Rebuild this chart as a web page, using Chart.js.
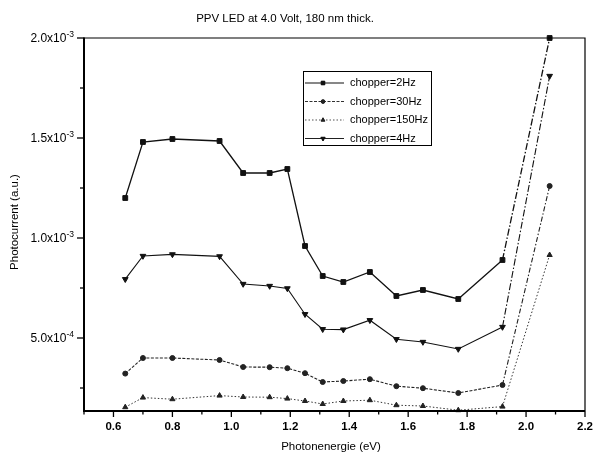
<!DOCTYPE html>
<html><head><meta charset="utf-8">
<script src="https://cdn.jsdelivr.net/npm/chart.js@4.4.1/dist/chart.umd.min.js"></script>
<style>html,body{margin:0;padding:0;background:#fff;}canvas{display:block;}</style>
</head><body>
<canvas id="c" width="593" height="455"></canvas>
<script>
const chartTitle = 'PPV LED at 4.0 Volt, 180 nm thick.';
const xTitle = 'Photonenergie (eV)';
const yTitle = 'Photocurrent (a.u.)';

const energy = [0.64, 0.70, 0.80, 0.96, 1.04, 1.13, 1.19, 1.25, 1.31, 1.38, 1.47, 1.56, 1.65, 1.77, 1.92, 2.08];
const chopper2Hz   = [1.20e-3, 1.48e-3, 1.495e-3, 1.485e-3, 1.325e-3, 1.325e-3, 1.345e-3, 0.96e-3, 0.81e-3, 0.78e-3, 0.83e-3, 0.71e-3, 0.74e-3, 0.695e-3, 0.89e-3, 2.0e-3];
const chopper30Hz  = [0.322e-3, 0.40e-3, 0.40e-3, 0.39e-3, 0.355e-3, 0.354e-3, 0.349e-3, 0.324e-3, 0.28e-3, 0.285e-3, 0.294e-3, 0.259e-3, 0.249e-3, 0.225e-3, 0.265e-3, 1.26e-3];
const chopper150Hz = [0.154e-3, 0.202e-3, 0.194e-3, 0.212e-3, 0.205e-3, 0.204e-3, 0.197e-3, 0.185e-3, 0.17e-3, 0.185e-3, 0.189e-3, 0.164e-3, 0.16e-3, 0.139e-3, 0.157e-3, 0.915e-3];
const chopper4Hz   = [0.794e-3, 0.91e-3, 0.918e-3, 0.908e-3, 0.77e-3, 0.76e-3, 0.748e-3, 0.619e-3, 0.544e-3, 0.542e-3, 0.589e-3, 0.494e-3, 0.48e-3, 0.445e-3, 0.555e-3, 1.81e-3];
const seriesNames = ['chopper=2Hz', 'chopper=30Hz', 'chopper=150Hz', 'chopper=4Hz'];

const xTickValues = [0.6, 0.8, 1.0, 1.2, 1.4, 1.6, 1.8, 2.0, 2.2];
const xTickLabels = ['0.6', '0.8', '1.0', '1.2', '1.4', '1.6', '1.8', '2.0', '2.2'];
const xMinorValues = [0.5, 0.7, 0.9, 1.1, 1.3, 1.5, 1.7, 1.9, 2.1];
const yTickValues = [5e-4, 1e-3, 1.5e-3, 2e-3];
const yTickMantissa = ['5.0x10', '1.0x10', '1.5x10', '2.0x10'];
const yTickExponent = ['-4', '-3', '-3', '-3'];
const yMinorValues = [2.5e-4, 7.5e-4, 1.25e-3, 1.75e-3];

const FONT = '"Liberation Sans", Arial, sans-serif';

function pts(ys) { return energy.map((x, i) => ({ x: x, y: ys[i] })); }
function lastSeg(dash) {
  return { borderDash: ctx => ctx.p1DataIndex === energy.length - 1 ? dash : undefined };
}

const datasets = [
  { label: seriesNames[0], data: pts(chopper2Hz), borderColor: '#111', backgroundColor: '#111',
    borderWidth: 1.3, pointStyle: 'rect', pointRadius: 3.4, pointRotation: 0, borderDash: [],
    segment: lastSeg([7, 2, 1.5, 2]) },
  { label: seriesNames[1], data: pts(chopper30Hz), borderColor: '#222', backgroundColor: '#222',
    borderWidth: 1.1, pointStyle: 'circle', pointRadius: 2.5, pointRotation: 0, borderDash: [3, 1.5],
    segment: lastSeg([5, 2, 1.5, 2]) },
  { label: seriesNames[2], data: pts(chopper150Hz), borderColor: '#333', backgroundColor: '#222',
    borderWidth: 1, pointStyle: 'triangle', pointRadius: 3, pointRotation: 0, borderDash: [1.5, 2],
    segment: lastSeg([1.5, 2]) },
  { label: seriesNames[3], data: pts(chopper4Hz), borderColor: '#111', backgroundColor: '#111',
    borderWidth: 1.1, pointStyle: 'triangle', pointRadius: 3.3, pointRotation: 180, borderDash: [],
    segment: lastSeg([7, 2, 1.5, 2]) }
].map(d => Object.assign(d, { pointBorderWidth: 1, pointBorderColor: d.backgroundColor, tension: 0, fill: false, clip: false }));

function drawMarker(ctx, ds, x, y) {
  ctx.save();
  ctx.fillStyle = ds.backgroundColor;
  ctx.strokeStyle = ds.backgroundColor;
  ctx.lineWidth = 1;
  ctx.setLineDash([]);
  Chart.helpers.drawPoint(ctx, { pointStyle: ds.pointStyle, radius: ds.pointRadius * 0.75, rotation: ds.pointRotation, borderWidth: 1 }, x, y);
  ctx.fill();
  ctx.restore();
}

const decor = {
  id: 'decor',
  afterDraw(chart) {
    const ctx = chart.ctx;
    const a = chart.chartArea;
    const xs = chart.scales.x, ys = chart.scales.y;
    ctx.save();
    ctx.strokeStyle = '#000';
    ctx.fillStyle = '#000';
    ctx.setLineDash([]);
    // frame
    ctx.lineWidth = 1.2;
    ctx.beginPath();
    ctx.moveTo(a.left, a.top); ctx.lineTo(a.right, a.top); ctx.lineTo(a.right, a.bottom);
    ctx.stroke();
    ctx.lineWidth = 2;
    ctx.beginPath();
    ctx.moveTo(a.left, a.top - 0.5); ctx.lineTo(a.left, a.bottom); ctx.lineTo(a.right, a.bottom);
    ctx.stroke();
    // x ticks
    ctx.lineWidth = 1.3;
    xTickValues.forEach(v => {
      const px = xs.getPixelForValue(v);
      ctx.beginPath(); ctx.moveTo(px, a.bottom); ctx.lineTo(px, a.bottom + 6); ctx.stroke();
    });
    xMinorValues.forEach(v => {
      const px = xs.getPixelForValue(v);
      ctx.beginPath(); ctx.moveTo(px, a.bottom); ctx.lineTo(px, a.bottom + 3.5); ctx.stroke();
    });
    // y ticks
    yTickValues.forEach(v => {
      const py = ys.getPixelForValue(v);
      ctx.beginPath(); ctx.moveTo(a.left, py); ctx.lineTo(a.left - 7, py); ctx.stroke();
    });
    yMinorValues.forEach(v => {
      const py = ys.getPixelForValue(v);
      ctx.beginPath(); ctx.moveTo(a.left, py); ctx.lineTo(a.left - 4, py); ctx.stroke();
    });
    // x tick labels
    ctx.font = 'bold 11.5px ' + FONT;
    ctx.textAlign = 'center';
    ctx.textBaseline = 'middle';
    xTickValues.forEach((v, i) => {
      ctx.fillText(xTickLabels[i], xs.getPixelForValue(v), a.bottom + 16);
    });
    // y tick labels with superscript
    yTickValues.forEach((v, i) => {
      const py = ys.getPixelForValue(v);
      ctx.font = '8.5px ' + FONT;
      const ew = ctx.measureText(yTickExponent[i]).width;
      const right = a.left - 10;
      ctx.textAlign = 'left';
      ctx.textBaseline = 'alphabetic';
      ctx.fillText(yTickExponent[i], right - ew, py - 1.5);
      ctx.font = '12px ' + FONT;
      const mw = ctx.measureText(yTickMantissa[i]).width;
      ctx.fillText(yTickMantissa[i], right - ew - mw, py + 4);
    });
    // titles
    ctx.textAlign = 'center';
    ctx.textBaseline = 'middle';
    ctx.font = '11.5px ' + FONT;
    ctx.fillText(chartTitle, 285, 19);
    ctx.fillText(xTitle, 331, 447);
    ctx.save();
    ctx.translate(15, 222);
    ctx.rotate(-Math.PI / 2);
    ctx.fillText(yTitle, 0, 0);
    ctx.restore();
    // legend
    const lx = 303, ly = 71, lw = 128, lh = 74;
    ctx.lineWidth = 1;
    ctx.strokeRect(lx + 0.5, ly + 0.5, lw, lh);
    const rows = [83, 101.5, 120, 138.5];
    chart.data.datasets.forEach((ds, i) => {
      const y = rows[i];
      ctx.save();
      ctx.strokeStyle = ds.borderColor;
      ctx.lineWidth = ds.borderWidth * 0.85;
      ctx.setLineDash(ds.borderDash || []);
      ctx.beginPath(); ctx.moveTo(lx + 2, y); ctx.lineTo(lx + 41, y); ctx.stroke();
      ctx.restore();
      drawMarker(ctx, ds, lx + 20, y);
      ctx.font = '11px ' + FONT;
      ctx.textAlign = 'left';
      ctx.textBaseline = 'middle';
      ctx.fillText(ds.label, lx + 47, y);
    });
    ctx.restore();
  }
};

new Chart(document.getElementById('c'), {
  type: 'line',
  data: { datasets: datasets },
  options: {
    responsive: false,
    animation: false,
    devicePixelRatio: 1,
    layout: { padding: { left: 84, right: 8, top: 38, bottom: 44 } },
    scales: {
      x: { type: 'linear', min: 0.5, max: 2.2, display: false },
      y: { type: 'linear', min: 1.35e-4, max: 2e-3, display: false }
    },
    plugins: { legend: { display: false }, title: { display: false }, tooltip: { enabled: false } }
  },
  plugins: [decor]
});
</script>
</body></html>
